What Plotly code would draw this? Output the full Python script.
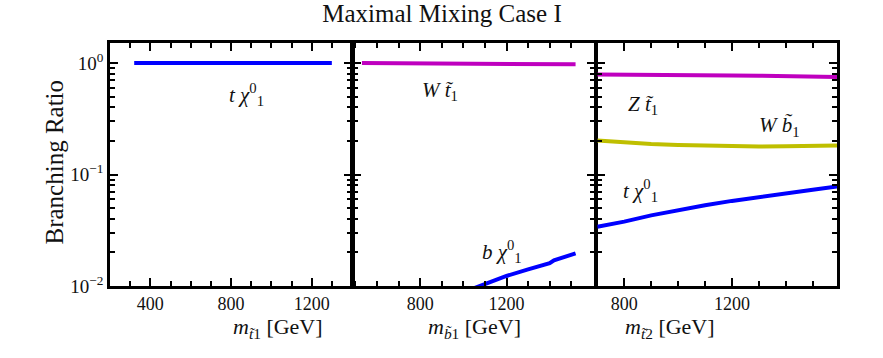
import plotly.graph_objects as go

# panel 1: stop 1 decays
mass_t1 = [320, 500, 700, 900, 1100, 1300]
br_t1_tchi = [1.0, 1.0, 1.0, 1.0, 1.0, 1.0]

# panel 2: sbottom 1 decays
mass_b1 = [530, 700, 900, 1100, 1300, 1520]
br_b1_wt1 = [1.0, 0.995, 0.99, 0.985, 0.98, 0.975]
mass_b1_chi = [1000, 1100, 1200, 1300, 1400, 1420, 1450, 1520]
br_b1_bchi = [0.0088, 0.0105, 0.0123, 0.0141, 0.0160, 0.0170, 0.0178, 0.0196]

# panel 3: stop 2 decays
mass_t2 = [700, 800, 900, 1000, 1100, 1200, 1300, 1400, 1500, 1590]
br_t2_zt1 = [0.79, 0.79, 0.79, 0.785, 0.78, 0.775, 0.77, 0.765, 0.76, 0.75]
br_t2_wb1 = [0.202, 0.194, 0.188, 0.184, 0.181, 0.179, 0.178, 0.179, 0.180, 0.182]
br_t2_tchi = [0.034, 0.0378, 0.043, 0.048, 0.053, 0.058, 0.063, 0.068, 0.073, 0.078]

BLUE = "#0000ff"
MAG = "#bf00bf"
YEL = "#bfbf00"
FONT = "Liberation Serif"
INK = "#111"

W, H = 883, 358
def px(x):
    return x / W
def py(y):
    return 1 - y / H

panels = [(110, 352), (353.3, 595), (597.3, 837)]
xranges = [[200, 1400], [490, 1610], [700, 1590]]
top, bottom = 43, 286

fig = go.Figure()

def line(x, y, color, n):
    fig.add_trace(go.Scatter(x=x, y=y, mode="lines", line=dict(color=color, width=4),
                             xaxis="x" if n == 1 else f"x{n}", yaxis="y" if n == 1 else f"y{n}",
                             showlegend=False))

line(mass_t1, br_t1_tchi, BLUE, 1)
line(mass_b1, br_b1_wt1, MAG, 2)
line(mass_b1_chi, br_b1_bchi, BLUE, 2)
line(mass_t2, br_t2_zt1, MAG, 3)
line(mass_t2, br_t2_wb1, YEL, 3)
line(mass_t2, br_t2_tchi, BLUE, 3)

minor_y = [k * 10 ** e for e in (-2, -1) for k in range(2, 10)]
xtitles = ["<i>m</i><sub><i>t̃</i>1</sub> [GeV]",
           "<i>m</i><sub><i>b̃</i>1</sub> [GeV]",
           "<i>m</i><sub><i>t̃</i>2</sub> [GeV]"]

layout = {}
for i, ((x0, x1), xr) in enumerate(zip(panels, xranges)):
    n = "" if i == 0 else str(i + 1)
    minor_x = [v for v in range(100, 1700, 100) if v % 400 and xr[0] < v < xr[1]]
    layout["xaxis" + n] = dict(
        domain=[px(x0), px(x1)], range=xr, anchor="y" + n,
        tickvals=[400, 800, 1200], ticks="inside", ticklen=8, tickwidth=1.5, tickcolor="black",
        minor=dict(tickmode="array", tickvals=minor_x, ticks="inside", ticklen=5,
                   tickwidth=1.5, tickcolor="black"),
        showline=True, linewidth=2.5, linecolor="black", mirror="allticks",
        showgrid=False, zeroline=False,
        tickfont=dict(family=FONT, size=18, color=INK),
    )
    layout["yaxis" + n] = dict(
        domain=[py(bottom), py(top)], type="log", range=[-2, 0.18], anchor="x" + n,
        tickvals=[0.01, 0.1, 1], ticktext=["10<sup>−2</sup>", "10<sup>−1</sup>", "10<sup>0</sup>"],
        showticklabels=(i == 0), ticks="inside", ticklen=8, tickwidth=1.5, tickcolor="black",
        minor=dict(tickmode="array", tickvals=minor_y, ticks="inside", ticklen=5,
                   tickwidth=1.5, tickcolor="black"),
        showline=True, linewidth=2.5, linecolor="black", mirror="allticks",
        showgrid=False, zeroline=False,
        tickfont=dict(family=FONT, size=19, color=INK),
    )
    fig.add_annotation(x=px((x0 + x1) / 2), y=py(328), xref="paper", yref="paper",
                       text=xtitles[i], showarrow=False, yanchor="middle",
                       font=dict(family=FONT, size=22, color=INK))

fig.update_layout(**layout)

fig.add_annotation(x=px(38), y=py(162), xref="paper", yref="paper", text="Branching Ratio",
                   textangle=-90, showarrow=False, font=dict(family=FONT, size=25, color=INK))

labels = [
    (1, 875, -0.28, "<i>t χ</i><sup>0</sup><sub>1</sub>"),
    (2, 892, -0.25, "<i>W t̃</i><sub>1</sub>"),
    (2, 1180, -1.69, "<i>b χ</i><sup>0</sup><sub>1</sub>"),
    (3, 868, -0.38, "<i>Z t̃</i><sub>1</sub>"),
    (3, 1378, -0.57, "<i>W b̃</i><sub>1</sub>"),
    (3, 862, -1.14, "<i>t χ</i><sup>0</sup><sub>1</sub>"),
]
for n, x, y, txt in labels:
    s = "" if n == 1 else str(n)
    fig.add_annotation(x=x, y=y, xref="x" + s, yref="y" + s, text=txt, showarrow=False,
                       font=dict(family=FONT, size=21, color=INK))

fig.update_layout(
    width=W, height=H,
    margin=dict(l=0, r=0, t=0, b=0, autoexpand=False),
    paper_bgcolor="white", plot_bgcolor="white",
    title=dict(text="Maximal Mixing Case I", x=px(442), xanchor="center", y=py(13), yanchor="middle",
               font=dict(family=FONT, size=25, color=INK)),
)

# drop the default body margin so the figure sits at the window's corner
fig.write_html("out.html", config={"displayModeBar": False},
               post_script="document.body.style.margin='0';document.body.style.padding='0';")
